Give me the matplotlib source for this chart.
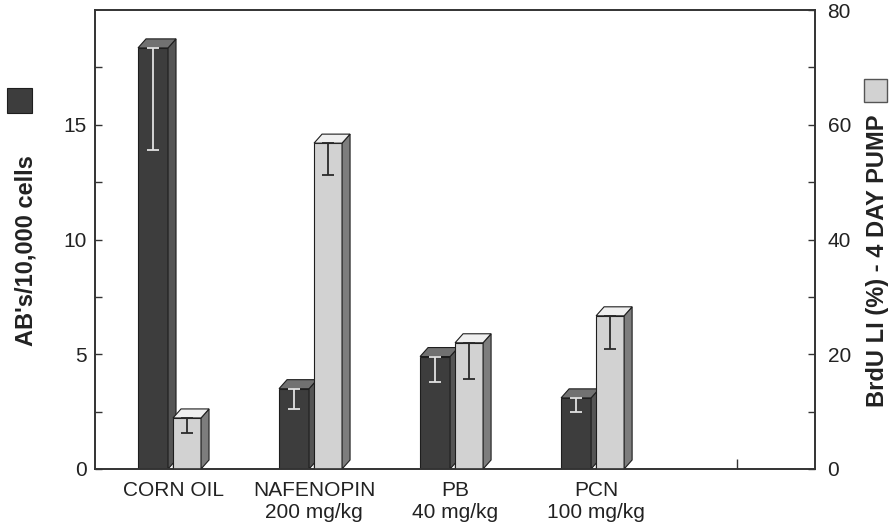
import numpy as np
import matplotlib
matplotlib.use("Agg")
import matplotlib.pyplot as plt
from matplotlib.patches import Polygon, Rectangle

plt.rcParams['font.family'] = ['Liberation Sans', 'DejaVu Sans']

groups = ["CORN OIL", "NAFENOPIN\n200 mg/kg", "PB\n40 mg/kg", "PCN\n100 mg/kg", ""]

# AB's / 10,000 cells (left axis), with lower error
abs_values = [18.35, 3.5, 4.9, 3.1]
abs_err = [4.45, 0.9, 1.1, 0.6]

# BrdU LI (%) - 4 day pump (right axis), with lower error
brdu_values = [8.9, 56.8, 22.0, 26.7]
brdu_err = [2.6, 5.6, 6.3, 5.8]

DARK = "#3d3d3d"
DARK_TOP = "#717171"
DARK_SIDE = "#555555"
LIGHT = "#d2d2d2"
LIGHT_TOP = "#efefef"
LIGHT_SIDE = "#7d7d7d"
EDGE = "#1e1e1e"
TXT = "#222222"

fig = plt.figure(figsize=(8.89, 5.30), dpi=100)
ax = fig.add_axes([0.1069, 0.1151, 0.81, 0.866])
ax2 = ax.twinx()

xmin, xmax = -0.553, 4.553
ax.set_xlim(xmin, xmax)
ax.set_ylim(0, 20)
ax2.set_ylim(0, 80)

# depth of the fake 3d boxes, in pixels
depth_x_px = 8
depth_y_px = 9
ax_w = 0.81 * 889
ax_h = 0.866 * 530
dx = depth_x_px * (xmax - xmin) / ax_w

w_dark = 30 / ax_w * (xmax - xmin)
w_light = 28 / ax_w * (xmax - xmin)
off_dark = -35 / ax_w * (xmax - xmin)


def box(axis, x0, w, h, dy, front, top, side, zo):
    x1 = x0 + w
    axis.bar(x0, h, w, align="edge", color=front, edgecolor=EDGE, linewidth=0.8, zorder=zo)
    axis.add_patch(Polygon([(x1, 0), (x1, h), (x1 + dx, h + dy), (x1 + dx, dy)],
                           closed=True, facecolor=side, edgecolor=EDGE, linewidth=0.8, zorder=zo))
    axis.add_patch(Polygon([(x0, h), (x1, h), (x1 + dx, h + dy), (x0 + dx, h + dy)],
                           closed=True, facecolor=top, edgecolor=EDGE, linewidth=0.8, zorder=zo))


x = np.arange(len(abs_values))
dy_left = depth_y_px * 20 / ax_h
dy_right = depth_y_px * 80 / ax_h

for i in range(len(x)):
    box(ax, x[i] + off_dark, w_dark, abs_values[i], dy_left, DARK, DARK_TOP, DARK_SIDE, 2)
    box(ax2, x[i], w_light, brdu_values[i], dy_right, LIGHT, LIGHT_TOP, LIGHT_SIDE, 2)

ax.errorbar(x + off_dark + w_dark / 2, abs_values, yerr=[abs_err, [0] * len(abs_err)],
            fmt="none", ecolor="#e2e2e2", elinewidth=1.3, capsize=4.5, capthick=1.3, zorder=3)
ax2.errorbar(x + w_light / 2, brdu_values, yerr=[brdu_err, [0] * len(brdu_err)],
             fmt="none", ecolor="#2a2a2a", elinewidth=1.3, capsize=4.5, capthick=1.3, zorder=3)

# ticks
ax.set_xticks(np.arange(len(groups)))
ax.set_xticklabels(groups, linespacing=1.2)
ax.set_yticks([0, 5, 10, 15])
ax.set_yticks([2.5, 7.5, 12.5, 17.5], minor=True)
ax2.set_yticks([0, 20, 40, 60, 80])
ax2.set_yticks([10, 30, 50, 70], minor=True)

ax.tick_params(axis="x", direction="in", length=7, width=1, color="#333333",
               labelsize=15, labelcolor=TXT, pad=8.5)
ax.tick_params(axis="y", which="both", direction="in", length=5, width=1, color="#333333",
               labelsize=15, labelcolor=TXT, pad=6)
ax2.tick_params(axis="y", which="both", direction="in", length=5, width=1, color="#333333",
                labelsize=15, labelcolor=TXT, pad=9)
ax2.tick_params(axis="x", which="both", length=0)

for a in (ax, ax2):
    for s in a.spines.values():
        s.set_color("#333333")
        s.set_linewidth(1.2)

ax.set_ylabel("AB's/10,000 cells", fontsize=17, fontweight="bold", color=TXT,
              va="center", ha="center")
ax.yaxis.set_label_coords(-0.096, 0.477)
ax2.set_ylabel("BrdU LI (%) - 4 DAY PUMP", fontsize=17, fontweight="bold", color=TXT,
               va="center", ha="center")
ax2.yaxis.set_label_coords(1.087, 0.453)

# little key squares next to the axis titles
fig.add_artist(Rectangle((7 / 889, 0.787), 25 / 889, 25 / 530, transform=fig.transFigure,
                         facecolor=DARK, edgecolor=EDGE, linewidth=0.8))
fig.add_artist(Rectangle((864 / 889, 0.8075), 23 / 889, 23 / 530, transform=fig.transFigure,
                         facecolor=LIGHT, edgecolor="#555555", linewidth=1.0))

fig.savefig("out.png", dpi=100)
